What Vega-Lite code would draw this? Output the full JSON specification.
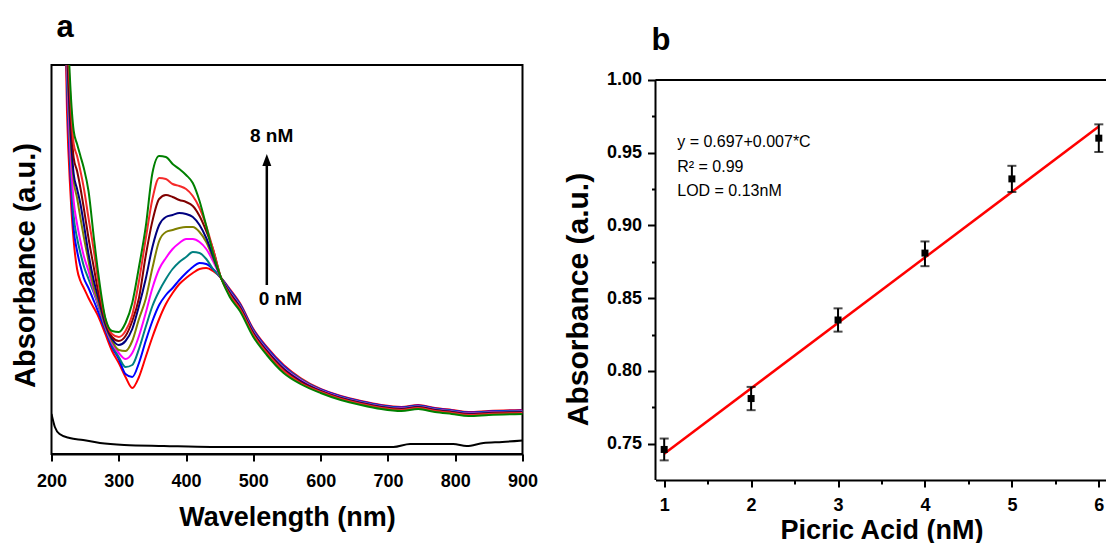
{
  "$schema": "https://vega.github.io/schema/vega-lite/v6.json",
  "padding": {"left": 9.5, "top": 11, "right": 0, "bottom": 0},
  "background": "white",
  "spacing": 23,
  "config": {
    "font": "Liberation Sans",
    "view": {"stroke": "black", "strokeWidth": 2},
    "axis": {
      "grid": false,
      "domainColor": "black",
      "domainWidth": 2,
      "tickColor": "black",
      "tickWidth": 2,
      "labelFont": "Liberation Sans",
      "labelFontWeight": "bold",
      "labelFontSize": 18,
      "labelColor": "black",
      "titleFont": "Liberation Sans",
      "titleFontWeight": "bold",
      "titleColor": "black"
    }
  },
  "datasets": {
    "spectra": [
      {"wl": 218, "c0": 5.13, "c1": 5.33, "c2": 5.43, "c3": 5.53, "c4": 5.63, "c5": 5.73, "c6": 5.83, "c7": 5.93, "c8": 6.13},
      {"wl": 223, "c0": 3.43, "c1": 3.73, "c2": 3.83, "c3": 3.93, "c4": 4.03, "c5": 4.13, "c6": 4.23, "c7": 4.33, "c8": 4.53},
      {"wl": 228, "c0": 2.63, "c1": 2.83, "c2": 2.93, "c3": 3.03, "c4": 3.18, "c5": 3.28, "c6": 3.43, "c7": 3.58, "c8": 3.68},
      {"wl": 233, "c0": 2.13, "c1": 2.25, "c2": 2.38, "c3": 2.53, "c4": 2.73, "c5": 2.80, "c6": 2.96, "c7": 3.10, "c8": 3.23},
      {"wl": 238, "c0": 1.85, "c1": 2.03, "c2": 2.16, "c3": 2.30, "c4": 2.56, "c5": 2.65, "c6": 2.83, "c7": 2.98, "c8": 3.10},
      {"wl": 243, "c0": 1.73, "c1": 1.88, "c2": 2.01, "c3": 2.13, "c4": 2.36, "c5": 2.50, "c6": 2.66, "c7": 2.83, "c8": 2.98},
      {"wl": 248, "c0": 1.66, "c1": 1.76, "c2": 1.88, "c3": 1.98, "c4": 2.17, "c5": 2.30, "c6": 2.46, "c7": 2.66, "c8": 2.86},
      {"wl": 255, "c0": 1.56, "c1": 1.66, "c2": 1.75, "c3": 1.83, "c4": 1.93, "c5": 2.00, "c6": 2.16, "c7": 2.36, "c8": 2.63},
      {"wl": 263, "c0": 1.46, "c1": 1.53, "c2": 1.61, "c3": 1.63, "c4": 1.66, "c5": 1.73, "c6": 1.86, "c7": 2.03, "c8": 2.16},
      {"wl": 270, "c0": 1.37, "c1": 1.41, "c2": 1.47, "c3": 1.49, "c4": 1.51, "c5": 1.55, "c6": 1.60, "c7": 1.70, "c8": 1.78},
      {"wl": 280, "c0": 1.20, "c1": 1.24, "c2": 1.26, "c3": 1.27, "c4": 1.28, "c5": 1.30, "c6": 1.33, "c7": 1.35, "c8": 1.36},
      {"wl": 290, "c0": 1.03, "c1": 1.07, "c2": 1.09, "c3": 1.11, "c4": 1.13, "c5": 1.15, "c6": 1.17, "c7": 1.20, "c8": 1.23},
      {"wl": 300, "c0": 0.91, "c1": 0.95, "c2": 0.97, "c3": 1.01, "c4": 1.04, "c5": 1.09, "c6": 1.13, "c7": 1.17, "c8": 1.22},
      {"wl": 310, "c0": 0.77, "c1": 0.80, "c2": 0.87, "c3": 0.95, "c4": 1.03, "c5": 1.13, "c6": 1.18, "c7": 1.23, "c8": 1.31},
      {"wl": 320, "c0": 0.66, "c1": 0.77, "c2": 0.89, "c3": 1.01, "c4": 1.13, "c5": 1.25, "c6": 1.33, "c7": 1.39, "c8": 1.51},
      {"wl": 330, "c0": 0.77, "c1": 0.91, "c2": 1.05, "c3": 1.18, "c4": 1.35, "c5": 1.48, "c6": 1.56, "c7": 1.73, "c8": 1.87},
      {"wl": 340, "c0": 0.97, "c1": 1.13, "c2": 1.27, "c3": 1.41, "c4": 1.55, "c5": 1.75, "c6": 1.98, "c7": 2.15, "c8": 2.27},
      {"wl": 350, "c0": 1.17, "c1": 1.33, "c2": 1.48, "c3": 1.66, "c4": 1.86, "c5": 2.07, "c6": 2.33, "c7": 2.55, "c8": 2.81},
      {"wl": 360, "c0": 1.35, "c1": 1.49, "c2": 1.63, "c3": 1.85, "c4": 2.13, "c5": 2.29, "c6": 2.55, "c7": 2.76, "c8": 2.98},
      {"wl": 370, "c0": 1.50, "c1": 1.59, "c2": 1.75, "c3": 1.96, "c4": 2.22, "c5": 2.37, "c6": 2.59, "c7": 2.75, "c8": 2.97},
      {"wl": 380, "c0": 1.61, "c1": 1.66, "c2": 1.85, "c3": 2.05, "c4": 2.24, "c5": 2.39, "c6": 2.57, "c7": 2.70, "c8": 2.90},
      {"wl": 390, "c0": 1.70, "c1": 1.74, "c2": 1.92, "c3": 2.11, "c4": 2.26, "c5": 2.41, "c6": 2.54, "c7": 2.68, "c8": 2.85},
      {"wl": 400, "c0": 1.76, "c1": 1.81, "c2": 1.97, "c3": 2.15, "c4": 2.27, "c5": 2.40, "c6": 2.52, "c7": 2.65, "c8": 2.79},
      {"wl": 410, "c0": 1.81, "c1": 1.87, "c2": 2.02, "c3": 2.15, "c4": 2.27, "c5": 2.37, "c6": 2.48, "c7": 2.58, "c8": 2.71},
      {"wl": 420, "c0": 1.85, "c1": 1.91, "c2": 2.01, "c3": 2.12, "c4": 2.22, "c5": 2.29, "c6": 2.38, "c7": 2.46, "c8": 2.53},
      {"wl": 430, "c0": 1.86, "c1": 1.90, "c2": 1.95, "c3": 2.05, "c4": 2.12, "c5": 2.16, "c6": 2.23, "c7": 2.28, "c8": 2.28},
      {"wl": 440, "c0": 1.83, "c1": 1.85, "c2": 1.85, "c3": 1.93, "c4": 1.96, "c5": 1.98, "c6": 2.05, "c7": 2.05, "c8": 2.01},
      {"wl": 452, "c0": 1.76, "c1": 1.76, "c2": 1.76, "c3": 1.76, "c4": 1.76, "c5": 1.76, "c6": 1.76, "c7": 1.76, "c8": 1.76},
      {"wl": 465, "c0": 1.65, "c1": 1.64, "c2": 1.63, "c3": 1.62, "c4": 1.61, "c5": 1.61, "c6": 1.60, "c7": 1.59, "c8": 1.57},
      {"wl": 480, "c0": 1.51, "c1": 1.50, "c2": 1.49, "c3": 1.48, "c4": 1.47, "c5": 1.47, "c6": 1.46, "c7": 1.45, "c8": 1.43},
      {"wl": 500, "c0": 1.25, "c1": 1.24, "c2": 1.23, "c3": 1.22, "c4": 1.21, "c5": 1.21, "c6": 1.20, "c7": 1.19, "c8": 1.17},
      {"wl": 520, "c0": 1.07, "c1": 1.06, "c2": 1.05, "c3": 1.04, "c4": 1.03, "c5": 1.03, "c6": 1.02, "c7": 1.01, "c8": 0.99},
      {"wl": 545, "c0": 0.89, "c1": 0.88, "c2": 0.87, "c3": 0.86, "c4": 0.85, "c5": 0.85, "c6": 0.84, "c7": 0.83, "c8": 0.81},
      {"wl": 570, "c0": 0.76, "c1": 0.75, "c2": 0.75, "c3": 0.74, "c4": 0.73, "c5": 0.73, "c6": 0.72, "c7": 0.71, "c8": 0.70},
      {"wl": 600, "c0": 0.65, "c1": 0.645, "c2": 0.64, "c3": 0.635, "c4": 0.63, "c5": 0.63, "c6": 0.625, "c7": 0.62, "c8": 0.61},
      {"wl": 630, "c0": 0.58, "c1": 0.575, "c2": 0.57, "c3": 0.565, "c4": 0.56, "c5": 0.56, "c6": 0.555, "c7": 0.55, "c8": 0.54},
      {"wl": 660, "c0": 0.53, "c1": 0.525, "c2": 0.52, "c3": 0.515, "c4": 0.51, "c5": 0.51, "c6": 0.505, "c7": 0.50, "c8": 0.49},
      {"wl": 690, "c0": 0.49, "c1": 0.485, "c2": 0.48, "c3": 0.475, "c4": 0.47, "c5": 0.47, "c6": 0.465, "c7": 0.46, "c8": 0.45},
      {"wl": 720, "c0": 0.47, "c1": 0.465, "c2": 0.46, "c3": 0.455, "c4": 0.45, "c5": 0.45, "c6": 0.445, "c7": 0.44, "c8": 0.43},
      {"wl": 745, "c0": 0.49, "c1": 0.485, "c2": 0.48, "c3": 0.475, "c4": 0.47, "c5": 0.47, "c6": 0.465, "c7": 0.46, "c8": 0.45},
      {"wl": 770, "c0": 0.46, "c1": 0.455, "c2": 0.45, "c3": 0.445, "c4": 0.44, "c5": 0.44, "c6": 0.435, "c7": 0.43, "c8": 0.42},
      {"wl": 795, "c0": 0.44, "c1": 0.435, "c2": 0.43, "c3": 0.425, "c4": 0.42, "c5": 0.42, "c6": 0.415, "c7": 0.41, "c8": 0.40},
      {"wl": 820, "c0": 0.42, "c1": 0.415, "c2": 0.41, "c3": 0.405, "c4": 0.40, "c5": 0.40, "c6": 0.395, "c7": 0.39, "c8": 0.38},
      {"wl": 850, "c0": 0.43, "c1": 0.425, "c2": 0.42, "c3": 0.415, "c4": 0.41, "c5": 0.41, "c6": 0.405, "c7": 0.40, "c8": 0.39},
      {"wl": 900, "c0": 0.44, "c1": 0.435, "c2": 0.43, "c3": 0.425, "c4": 0.42, "c5": 0.42, "c6": 0.415, "c7": 0.41, "c8": 0.40}
    ],
    "blank": [
      {"wl": 200, "abs": 0.40}, {"wl": 205, "abs": 0.27}, {"wl": 212, "abs": 0.20},
      {"wl": 227, "abs": 0.16}, {"wl": 247, "abs": 0.14}, {"wl": 272, "abs": 0.11},
      {"wl": 308, "abs": 0.09}, {"wl": 367, "abs": 0.08}, {"wl": 437, "abs": 0.07},
      {"wl": 600, "abs": 0.07}, {"wl": 708, "abs": 0.07}, {"wl": 733, "abs": 0.10},
      {"wl": 760, "abs": 0.10}, {"wl": 797, "abs": 0.10}, {"wl": 817, "abs": 0.08},
      {"wl": 842, "abs": 0.11}, {"wl": 870, "abs": 0.12}, {"wl": 900, "abs": 0.135}
    ],
    "arrow": [{"wl": 520, "y1": 1.69, "y2": 2.9, "head": 2.94}],
    "labelsA": [
      {"wl": 495, "abs": 3.12, "label": "8 nM"},
      {"wl": 508, "abs": 1.49, "label": "0 nM"}
    ],
    "calib": [
      {"c": 1, "a": 0.746, "lo": 0.7385, "hi": 0.7535},
      {"c": 2, "a": 0.781, "lo": 0.773, "hi": 0.789},
      {"c": 3, "a": 0.835, "lo": 0.827, "hi": 0.843},
      {"c": 4, "a": 0.881, "lo": 0.872, "hi": 0.889},
      {"c": 5, "a": 0.932, "lo": 0.923, "hi": 0.941},
      {"c": 6, "a": 0.960, "lo": 0.9505, "hi": 0.9695}
    ],
    "fit": [{"c": 1, "a": 0.743}, {"c": 6, "a": 0.968}],
    "eq": [
      {"c": 1.15, "a": 0.954, "t": "y = 0.697+0.007*C"},
      {"c": 1.15, "a": 0.9368, "t": "R² = 0.99"},
      {"c": 1.15, "a": 0.9203, "t": "LOD = 0.13nM"}
    ],
    "frame": [{"c0": 0.9, "c1": 6.1, "ylo": 0.725, "yhi": 1.0}]
  },
  "hconcat": [
    {
      "width": 471,
      "height": 389,
      "title": {"text": "a", "anchor": "start", "frame": "group", "fontSize": 31, "fontWeight": "bold", "font": "Liberation Sans", "color": "black", "baseline": "alphabetic", "offset": -3, "dx": 5},
      "layer": [
        {
          "data": {"name": "spectra"},
          "transform": [{"fold": ["c0", "c1", "c2", "c3", "c4", "c5", "c6", "c7", "c8"], "as": ["conc", "abs"]}],
          "mark": {"type": "line", "strokeWidth": 2, "clip": true, "interpolate": "monotone"},
          "encoding": {
            "x": {"field": "wl", "type": "quantitative", "scale": {"domain": [200, 900], "nice": false, "zero": false},
              "axis": {"title": "Wavelength (nm)", "values": [200, 250, 300, 350, 400, 450, 500, 550, 600, 650, 700, 750, 800, 850, 900],
                "labelExpr": "datum.value % 100 === 0 ? datum.label : ''",
                "tickSize": {"condition": {"test": "datum.value % 100 === 0", "value": 7}, "value": 6},
                "labelPadding": 11, "labelFlush": false, "labelOverlap": false, "titleFontSize": 27, "titlePadding": 35, "titleBaseline": "alphabetic"}},
            "y": {"field": "abs", "type": "quantitative", "scale": {"domain": [0, 3.89], "nice": false, "zero": false},
              "axis": {"title": "Absorbance (a.u.)", "labels": false, "ticks": false, "domain": false, "titleFontSize": 29, "titlePadding": 17.5, "titleBaseline": "alphabetic", "titleY": 200}},
            "color": {"field": "conc", "type": "nominal", "legend": null,
              "scale": {"domain": ["c0", "c1", "c2", "c3", "c4", "c5", "c6", "c7", "c8"],
                "range": ["#FF0000", "#0000FF", "#008080", "#FF00FF", "#808000", "#000080", "#800000", "#F52A2A", "#008000"]}}
          }
        },
        {
          "data": {"name": "blank"},
          "mark": {"type": "line", "strokeWidth": 2, "color": "black", "interpolate": "monotone", "clip": true},
          "encoding": {
            "x": {"field": "wl", "type": "quantitative"},
            "y": {"field": "abs", "type": "quantitative"}
          }
        },
        {
          "data": {"name": "arrow"},
          "mark": {"type": "rule", "strokeWidth": 2.5, "color": "black"},
          "encoding": {
            "x": {"field": "wl", "type": "quantitative"},
            "y": {"field": "y1", "type": "quantitative"},
            "y2": {"field": "y2"}
          }
        },
        {
          "data": {"name": "arrow"},
          "mark": {"type": "point", "shape": "M0,-1L0.75,1L-0.75,1Z", "filled": true, "color": "black", "opacity": 1, "size": 144, "strokeWidth": 0},
          "encoding": {
            "x": {"field": "wl", "type": "quantitative"},
            "y": {"field": "head", "type": "quantitative"}
          }
        },
        {
          "data": {"name": "labelsA"},
          "mark": {"type": "text", "align": "left", "baseline": "alphabetic", "fontSize": 19, "fontWeight": "bold", "font": "Liberation Sans", "color": "black"},
          "encoding": {
            "x": {"field": "wl", "type": "quantitative"},
            "y": {"field": "abs", "type": "quantitative"},
            "text": {"field": "label"}
          }
        }
      ]
    },
    {
      "width": 452,
      "height": 415,
      "view": {"stroke": null},
      "title": {"text": "b", "anchor": "start", "frame": "group", "fontSize": 31, "fontWeight": "bold", "font": "Liberation Sans", "color": "black", "baseline": "alphabetic", "offset": -16, "dx": -4},
      "layer": [
        {
          "data": {"name": "fit"},
          "mark": {"type": "line", "color": "#FF0000", "strokeWidth": 2.5},
          "encoding": {
            "x": {"field": "c", "type": "quantitative", "scale": {"domain": [0.9, 6.1], "nice": false, "zero": false},
              "axis": {"title": "Picric Acid (nM)", "values": [1, 1.5, 2, 2.5, 3, 3.5, 4, 4.5, 5, 5.5, 6],
                "format": ".0f",
                "labelExpr": "datum.value % 1 === 0 ? datum.label : ''",
                "tickSize": {"condition": {"test": "datum.value % 1 === 0", "value": 7}, "value": 4},
                "labelPadding": 9, "labelFlush": false, "labelOverlap": false, "titleFontSize": 27, "titlePadding": 24, "titleBaseline": "alphabetic"}},
            "y": {"field": "a", "type": "quantitative", "scale": {"domain": [0.725, 1.0103], "nice": false, "zero": false},
              "axis": {"title": "Absorbance (a.u.)", "values": [0.75, 0.775, 0.8, 0.825, 0.85, 0.875, 0.9, 0.925, 0.95, 0.975, 1.0],
                "format": ".2f", "domain": false,
                "labelExpr": "round(datum.value * 1000) % 50 === 0 ? datum.label : ''",
                "tickSize": {"condition": {"test": "round(datum.value * 1000) % 50 === 0", "value": 8}, "value": 4},
                "labelPadding": 6, "labelFlush": false, "labelOverlap": false, "titleFontSize": 30, "titlePadding": 19, "titleBaseline": "alphabetic", "titleY": 234}}
          }
        },
        {
          "data": {"name": "frame"},
          "mark": {"type": "rule", "color": "black", "strokeWidth": 2},
          "encoding": {
            "y": {"field": "yhi", "type": "quantitative"}
          }
        },
        {
          "data": {"name": "frame"},
          "mark": {"type": "rule", "color": "black", "strokeWidth": 2},
          "encoding": {
            "x": {"field": "c0", "type": "quantitative"},
            "y": {"field": "ylo", "type": "quantitative"},
            "y2": {"field": "yhi"}
          }
        },
        {
          "data": {"name": "calib"},
          "mark": {"type": "rule", "color": "black", "strokeWidth": 2},
          "encoding": {
            "x": {"field": "c", "type": "quantitative"},
            "y": {"field": "lo", "type": "quantitative"},
            "y2": {"field": "hi"}
          }
        },
        {
          "data": {"name": "calib"},
          "mark": {"type": "tick", "orient": "horizontal", "color": "black", "size": 9, "thickness": 2},
          "encoding": {
            "x": {"field": "c", "type": "quantitative"},
            "y": {"field": "lo", "type": "quantitative"}
          }
        },
        {
          "data": {"name": "calib"},
          "mark": {"type": "tick", "orient": "horizontal", "color": "black", "size": 9, "thickness": 2},
          "encoding": {
            "x": {"field": "c", "type": "quantitative"},
            "y": {"field": "hi", "type": "quantitative"}
          }
        },
        {
          "data": {"name": "calib"},
          "mark": {"type": "square", "color": "black", "filled": true, "opacity": 1, "size": 49},
          "encoding": {
            "x": {"field": "c", "type": "quantitative"},
            "y": {"field": "a", "type": "quantitative"}
          }
        },
        {
          "data": {"name": "eq"},
          "mark": {"type": "text", "align": "left", "baseline": "alphabetic", "fontSize": 16, "font": "Liberation Sans", "color": "black"},
          "encoding": {
            "x": {"field": "c", "type": "quantitative"},
            "y": {"field": "a", "type": "quantitative"},
            "text": {"field": "t"}
          }
        }
      ]
    }
  ]
}
